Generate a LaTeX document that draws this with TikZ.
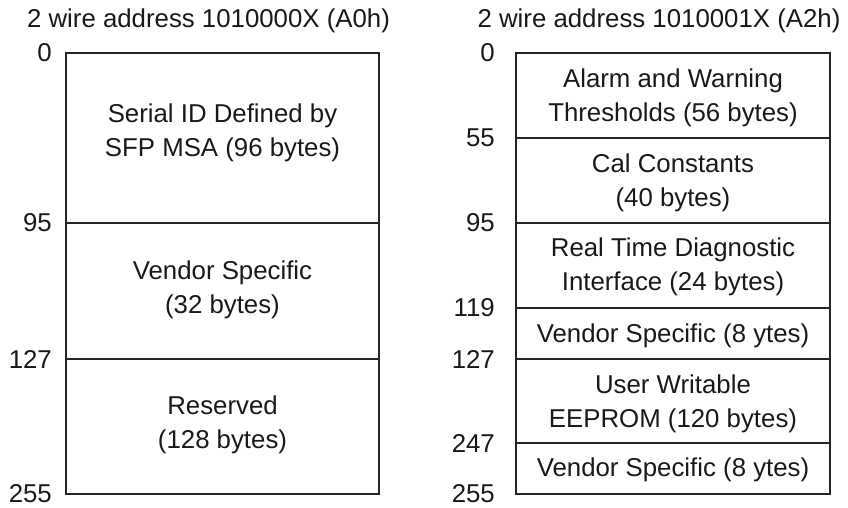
\documentclass[tikz,border=0pt]{standalone}
\usepackage{fontspec}
\setmainfont{Liberation Sans}
\begin{document}
\begin{tikzpicture}[x=1pt,y=-1pt,
  lbl/.style={font=\fontsize{25.8}{34}\selectfont, inner sep=0pt, text=black!90},
  num/.style={lbl, anchor=east},
  txt/.style={lbl, align=center},
  title/.style={lbl, anchor=base},
  memline/.style={draw=black!85, line width=1.3pt}]
\useasboundingbox (0,0) rectangle (848,508);
% titles
\node[title] (tl) at (208.5,28) {2 wire address 1010000X (A0h)};
\node[title] (tr) at (659,28) {2 wire address 1010001X (A2h)};
% left map
\draw[memline] (66,53) rectangle (379,494);
\draw[memline] (66,223) -- (379,223);
\draw[memline] (66,359) -- (379,359);
\node[txt] (l1) at (222.5,133.25) {Serial ID Defined by\\SFP MSA (96 bytes)};
\node[txt] (l2) at (222.5,289.75) {Vendor Specific\\(32 bytes)};
\node[txt] (l3) at (222.5,424.75) {Reserved\\(128 bytes)};
\node[num] (ln0) at (52,53) {0};
\node[num] (ln95) at (52,223) {95};
\node[num] (ln127) at (52,359) {127};
\node[num] (ln255) at (52,494) {255};
% right map
\draw[memline] (516,53) rectangle (830,494);
\foreach \yy in {138,223,308,359,443}
  \draw[memline] (516,\yy) -- (830,\yy);
\node[txt] (r1) at (673,97.75) {Alarm and Warning\\Thresholds (56 bytes)};
\node[txt] (r2) at (673,182.75) {Cal Constants\\(40 bytes)};
\node[txt] (r3) at (673,266.75) {Real Time Diagnostic\\Interface (24 bytes)};
\node[txt] (r4) at (673,336.25) {Vendor Specific (8 ytes)};
\node[txt] (r5) at (673,404.25) {User Writable\\EEPROM (120 bytes)};
\node[txt] (r6) at (673,470.25) {Vendor Specific (8 ytes)};
\node[num] (rn0) at (495,53) {0};
\node[num] (rn55) at (495,138) {55};
\node[num] (rn95) at (495,223) {95};
\node[num] (rn119) at (495,308) {119};
\node[num] (rn127) at (495,359) {127};
\node[num] (rn247) at (495,443) {247};
\node[num] (rn255) at (495,494) {255};
\end{tikzpicture}
\end{document}
